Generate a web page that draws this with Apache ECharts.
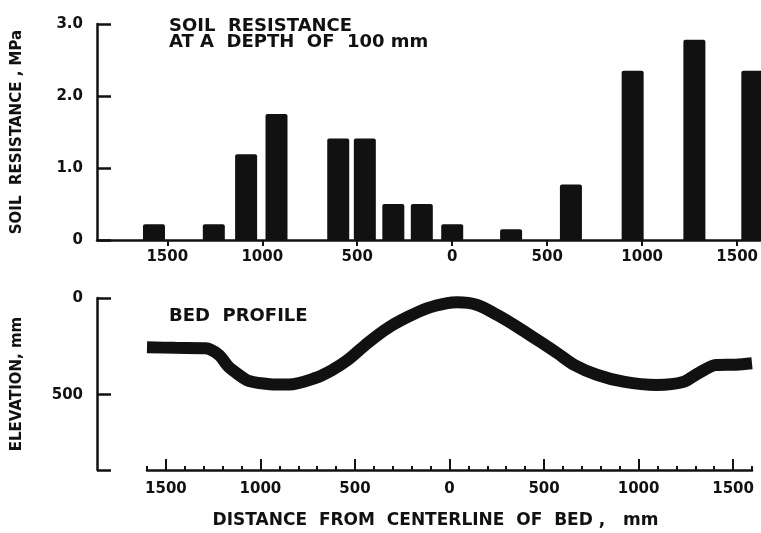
<!DOCTYPE html>
<html>
<head>
<meta charset="utf-8">
<script src="https://cdn.jsdelivr.net/npm/echarts@6/dist/echarts.min.js"></script>
<style>
  html, body { margin: 0; padding: 0; background: #fff; }
  #main { width: 761px; height: 533px; }
</style>
</head>
<body>
<div id="main"></div>
<script>
// soil resistance bars (distance from centerline, mm / MPa)
const barPositions = [-1570, -1255, -1085, -925, -600, -460, -310, -160, 0, 310, 625, 950, 1275, 1580];
const barValues = [0.22, 0.22, 1.19, 1.75, 1.41, 1.41, 0.5, 0.5, 0.22, 0.15, 0.77, 2.35, 2.78, 2.35];

// bed profile (distance, mm / elevation below top, mm)
const profileX = [-1600, -1450, -1290, -1220, -1170, -1115, -1060, -950, -850, -710, -620, -537, -432, -326, -221, -116, -11, 42, 147, 253, 358, 463, 568, 658, 779, 920, 1095, 1235, 1320, 1410, 1515, 1600];
const profileY = [255, 258, 260, 294, 355, 397, 430, 446, 448, 414, 372, 320, 232, 155, 98, 52, 26, 22, 36, 88, 149, 216, 284, 345, 397, 433, 450, 435, 387, 347, 345, 338];

const distTicks = [-1500, -1000, -500, 0, 500, 1000, 1500];
const minorTicks = [];
for (let v = -1600; v <= 1600; v += 100) minorTicks.push(v);
const resTicks = [0, 1, 2, 3];

const font = "DejaVu Sans";
const ink = "#111";

const bars = barPositions.map((x, i) => [x, barValues[i]]);
const profile = profileX.map((x, i) => [x, profileY[i]]);

const labelStyle = { color: ink, fontFamily: font, fontWeight: "bold", fontSize: 15 };
const nameStyle = { color: ink, fontFamily: font, fontWeight: "bold", fontSize: 15 };

const myChart = echarts.init(document.getElementById("main"));
const option = {
  backgroundColor: "#fff",
  animation: false,
  title: [
    {
      text: "SOIL  RESISTANCE\nAT A  DEPTH  OF  100 mm",
      left: 164, top: 13,
      textStyle: { fontFamily: font, fontWeight: "bold", fontSize: 18, color: ink, lineHeight: 16 },
    },
    {
      text: "BED  PROFILE",
      left: 164, top: 302,
      textStyle: { fontFamily: font, fontWeight: "bold", fontSize: 18, color: ink },
    },
  ],
  grid: [
    { left: 97, right: 1, top: 24, height: 216 },
    { left: 147, right: 9, top: 298, height: 172 },
  ],
  xAxis: [
    {
      gridIndex: 0, type: "value", min: -1870, max: 1620,
      axisLine: { onZero: false, lineStyle: { color: ink, width: 2.5 } },
      axisTick: { show: true, inside: false, length: 6, customValues: distTicks, lineStyle: { color: ink, width: 2 } },
      axisLabel: Object.assign({ customValues: distTicks, margin: 10, formatter: (v) => String(Math.abs(v)) }, labelStyle),
      splitLine: { show: false },
    },
    {
      gridIndex: 1, type: "value", min: -1600, max: 1600, position: "bottom",
      axisLine: { onZero: false, lineStyle: { color: ink, width: 2.5 } },
      axisTick: { show: true, inside: true, length: 4, customValues: minorTicks, lineStyle: { color: ink, width: 2 } },
      axisLabel: { show: false },
      splitLine: { show: false },
    },
    {
      gridIndex: 1, type: "value", min: -1600, max: 1600, position: "bottom",
      axisLine: { show: false, onZero: false },
      axisTick: { show: true, inside: true, length: 11, customValues: distTicks, lineStyle: { color: ink, width: 2 } },
      axisLabel: Object.assign({ customValues: distTicks, margin: 12, formatter: (v) => String(Math.abs(v)) }, labelStyle),
      name: "DISTANCE  FROM  CENTERLINE  OF  BED ,   mm",
      nameLocation: "middle", nameGap: 42,
      nameTextStyle: Object.assign({}, nameStyle, { fontSize: 17, padding: [0, 28, 0, 0] }),
      splitLine: { show: false },
    },
  ],
  yAxis: [
    {
      gridIndex: 0, type: "value", min: 0, max: 3,
      axisLine: { show: true, onZero: false, lineStyle: { color: ink, width: 2.5 } },
      axisTick: { show: true, inside: true, length: 14, customValues: resTicks, lineStyle: { color: ink, width: 2.5 } },
      axisLabel: Object.assign({ customValues: resTicks, margin: 14, formatter: (v) => (v === 0 ? "0" : v.toFixed(1)) }, labelStyle),
      name: "SOIL  RESISTANCE , MPa",
      nameLocation: "middle", nameRotate: 90, nameGap: 72,
      nameTextStyle: nameStyle,
      splitLine: { show: false },
    },
    {
      gridIndex: 1, type: "value", min: 0, max: 890, inverse: true, offset: 50,
      axisLine: { show: true, onZero: false, lineStyle: { color: ink, width: 2.5 } },
      axisTick: { show: true, inside: true, length: 14, customValues: [0, 500, 890], lineStyle: { color: ink, width: 2.5 } },
      axisLabel: Object.assign({ customValues: [0, 500], margin: 14 }, labelStyle),
      name: "ELEVATION, mm",
      nameLocation: "middle", nameRotate: 90, nameGap: 72,
      nameTextStyle: nameStyle,
      splitLine: { show: false },
    },
  ],
  series: [
    {
      name: "soil resistance",
      type: "bar",
      xAxisIndex: 0, yAxisIndex: 0,
      barWidth: 22,
      itemStyle: { color: ink, borderRadius: [2, 2, 0, 0] },
      data: bars,
    },
    {
      name: "bed profile",
      type: "line",
      xAxisIndex: 1, yAxisIndex: 1,
      smooth: 0.3,
      symbol: "none",
      lineStyle: { color: ink, width: 12 },
      data: profile,
    },
  ],
};
myChart.setOption(option);
</script>
</body>
</html>
